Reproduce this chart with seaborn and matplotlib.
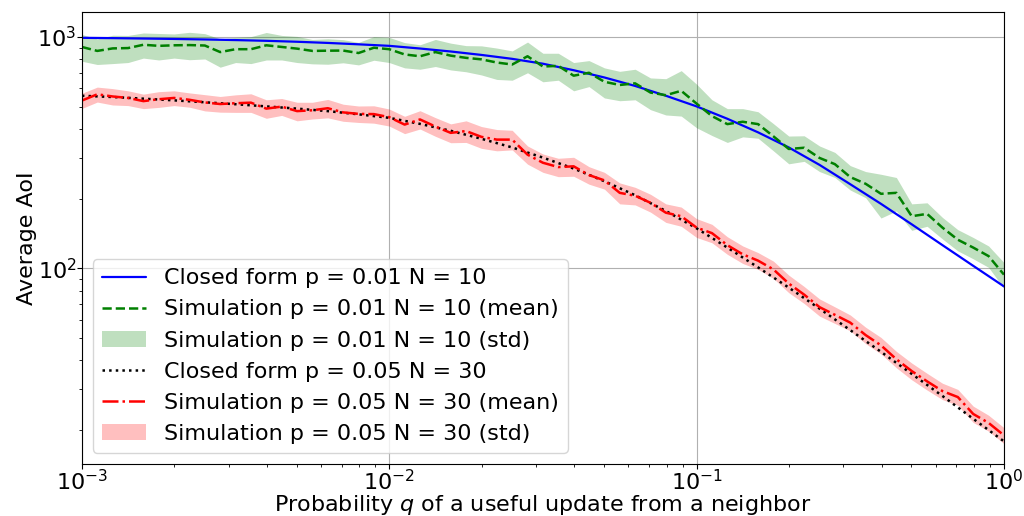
import seaborn as sns
import matplotlib.pyplot as plt

# q grid of the simulations (0.05 decade steps) and of the closed form curves (0.1 decade steps)
q_sim = [0.001, 0.001122, 0.001259, 0.001413, 0.001585, 0.001778, 0.001995, 0.002239, 0.002512, 0.002818,
         0.003162, 0.003548, 0.003981, 0.004467, 0.005012, 0.005623, 0.00631, 0.007079, 0.007943, 0.008913,
         0.01, 0.01122, 0.01259, 0.01413, 0.01585, 0.01778, 0.01995, 0.02239, 0.02512, 0.02818,
         0.03162, 0.03548, 0.03981, 0.04467, 0.05012, 0.05623, 0.0631, 0.07079, 0.07943, 0.08913,
         0.1, 0.1122, 0.1259, 0.1413, 0.1585, 0.1778, 0.1995, 0.2239, 0.2512, 0.2818,
         0.3162, 0.3548, 0.3981, 0.4467, 0.5012, 0.5623, 0.631, 0.7079, 0.7943, 0.8913, 1.0]
q_closed = [0.001, 0.001259, 0.001585, 0.001995, 0.002512, 0.003162, 0.003981, 0.005012, 0.00631, 0.007943,
            0.01, 0.01259, 0.01585, 0.01995, 0.02512, 0.03162, 0.03981, 0.05012, 0.0631, 0.07943,
            0.1, 0.1259, 0.1585, 0.1995, 0.2512, 0.3162, 0.3981, 0.5012, 0.631, 0.7943, 1.0]

# p = 0.01, N = 10
closed_a = [991, 988, 984, 980, 975, 969, 962, 953, 942, 929,
            915, 891, 865, 836, 804, 766, 718, 668, 614, 557,
            501, 443, 387, 333, 280, 231, 190, 155, 126, 102.6, 83.6]
sim_a_mean = [905, 870, 892, 895, 925, 915, 920, 922, 918, 860,
              885, 885, 920, 905, 890, 870, 872, 873, 852, 898,
              885, 840, 825, 860, 830, 812, 800, 775, 760, 825,
              745, 750, 680, 700, 640, 620, 630, 575, 560, 585,
              515, 455, 420, 430, 420, 372, 328, 332, 300, 282,
              248, 232, 210, 212, 168, 172, 150, 133, 123, 113,
              94]
sim_a_std = [120, 110, 125, 120, 115, 120, 110, 125, 115, 120,
             110, 118, 125, 110, 115, 105, 110, 100, 95, 105,
             110, 105, 100, 115, 110, 105, 115, 120, 110, 125,
             105, 100, 95, 90, 95, 90, 95, 90, 100, 130,
             110, 80, 70, 60, 55, 50, 45, 42, 38, 35,
             30, 30, 45, 35, 22, 20, 16, 14, 13, 12,
             12]

# p = 0.05, N = 30
closed_b = [557, 550, 541, 532, 522, 512, 501, 490, 478, 463,
            447, 421, 393, 363, 333, 301, 270, 238, 207, 177,
            149, 123, 101, 82.6, 67.0, 54.1, 43.6, 35.0, 28.1, 22.4, 17.9]
sim_b_mean = [531, 565, 553, 545, 528, 538, 545, 535, 521, 513,
              517, 520, 490, 500, 478, 482, 492, 472, 465, 464,
              450, 418, 440, 410, 385, 392, 370, 360, 360, 310,
              286, 274, 276, 253, 240, 212, 206, 192, 174, 168,
              150, 142, 126, 115, 108, 99, 86, 77, 68, 63,
              58.3, 51.5, 46.5, 40.5, 36, 32.5, 29.5, 27.8, 23.5, 21.5,
              19.0]
sim_b_std = [40, 42, 45, 40, 38, 42, 40, 38, 42, 40,
             45, 48, 45, 42, 44, 40, 45, 40, 38, 40,
             38, 36, 40, 38, 36, 42, 40, 38, 35, 28,
             26, 25, 26, 22, 20, 22, 18, 17, 16, 16,
             14, 13, 11, 10, 9, 8.5, 7.5, 6.5, 5.8, 5.2,
             4.6, 4.2, 3.8, 3.3, 3.0, 2.7, 2.4, 2.2, 1.9, 1.7,
             1.5]

labels = ['Closed form p = 0.01 N = 10',
          'Simulation p = 0.01 N = 10 (mean)',
          'Simulation p = 0.01 N = 10 (std)',
          'Closed form p = 0.05 N = 30',
          'Simulation p = 0.05 N = 30 (mean)',
          'Simulation p = 0.05 N = 30 (std)']

sns.set_style("ticks")
plt.rcParams['font.family'] = ['DejaVu Sans']
plt.rcParams['font.size'] = 16
plt.rcParams['axes.edgecolor'] = 'black'
plt.rcParams['xtick.color'] = 'black'
plt.rcParams['ytick.color'] = 'black'
plt.rcParams['text.color'] = 'black'
plt.rcParams['axes.labelcolor'] = 'black'

fig = plt.figure(figsize=(10.24, 5.16), dpi=100)
ax = fig.add_axes([0.080, 0.101, 0.9004, 0.876])

# p = 0.01 N = 10
sns.lineplot(x=q_closed, y=closed_a, ax=ax, color='blue', lw=1.6,
             estimator=None, sort=False, label=labels[0])
sns.lineplot(x=q_sim, y=sim_a_mean, ax=ax, color='green', lw=1.8, linestyle='--',
             estimator=None, sort=False, label=labels[1])
lo_a = [m - s for m, s in zip(sim_a_mean, sim_a_std)]
hi_a = [m + s for m, s in zip(sim_a_mean, sim_a_std)]
ax.fill_between(q_sim, lo_a, hi_a, color='green', alpha=0.25, lw=0, label=labels[2])

# p = 0.05 N = 30
sns.lineplot(x=q_closed, y=closed_b, ax=ax, color='black', lw=1.8, linestyle=':',
             estimator=None, sort=False, label=labels[3])
sns.lineplot(x=q_sim, y=sim_b_mean, ax=ax, color='red', lw=1.8, linestyle='-.',
             estimator=None, sort=False, label=labels[4])
lo_b = [m - s for m, s in zip(sim_b_mean, sim_b_std)]
hi_b = [m + s for m, s in zip(sim_b_mean, sim_b_std)]
ax.fill_between(q_sim, lo_b, hi_b, color='red', alpha=0.25, lw=0, label=labels[5])

ax.set_xscale('log')
ax.set_yscale('log')
ax.set_xlim(1e-3, 1)
ax.set_ylim(14.3, 1283)
ax.grid(True, which='major', color='#b0b0b0', lw=0.8)
ax.tick_params(which='major', length=3.5, width=0.8, pad=0.5)
ax.tick_params(which='minor', length=2, width=0.6)
ax.set_xlabel('Probability $q$ of a useful update from a neighbor', labelpad=-1.5)
ax.set_ylabel('Average AoI', labelpad=0)

handles, found = ax.get_legend_handles_labels()
by_label = dict(zip(found, handles))
ax.legend([by_label[l] for l in labels], labels, loc='lower left', fontsize=16)

fig.savefig('out.png', dpi=100)
